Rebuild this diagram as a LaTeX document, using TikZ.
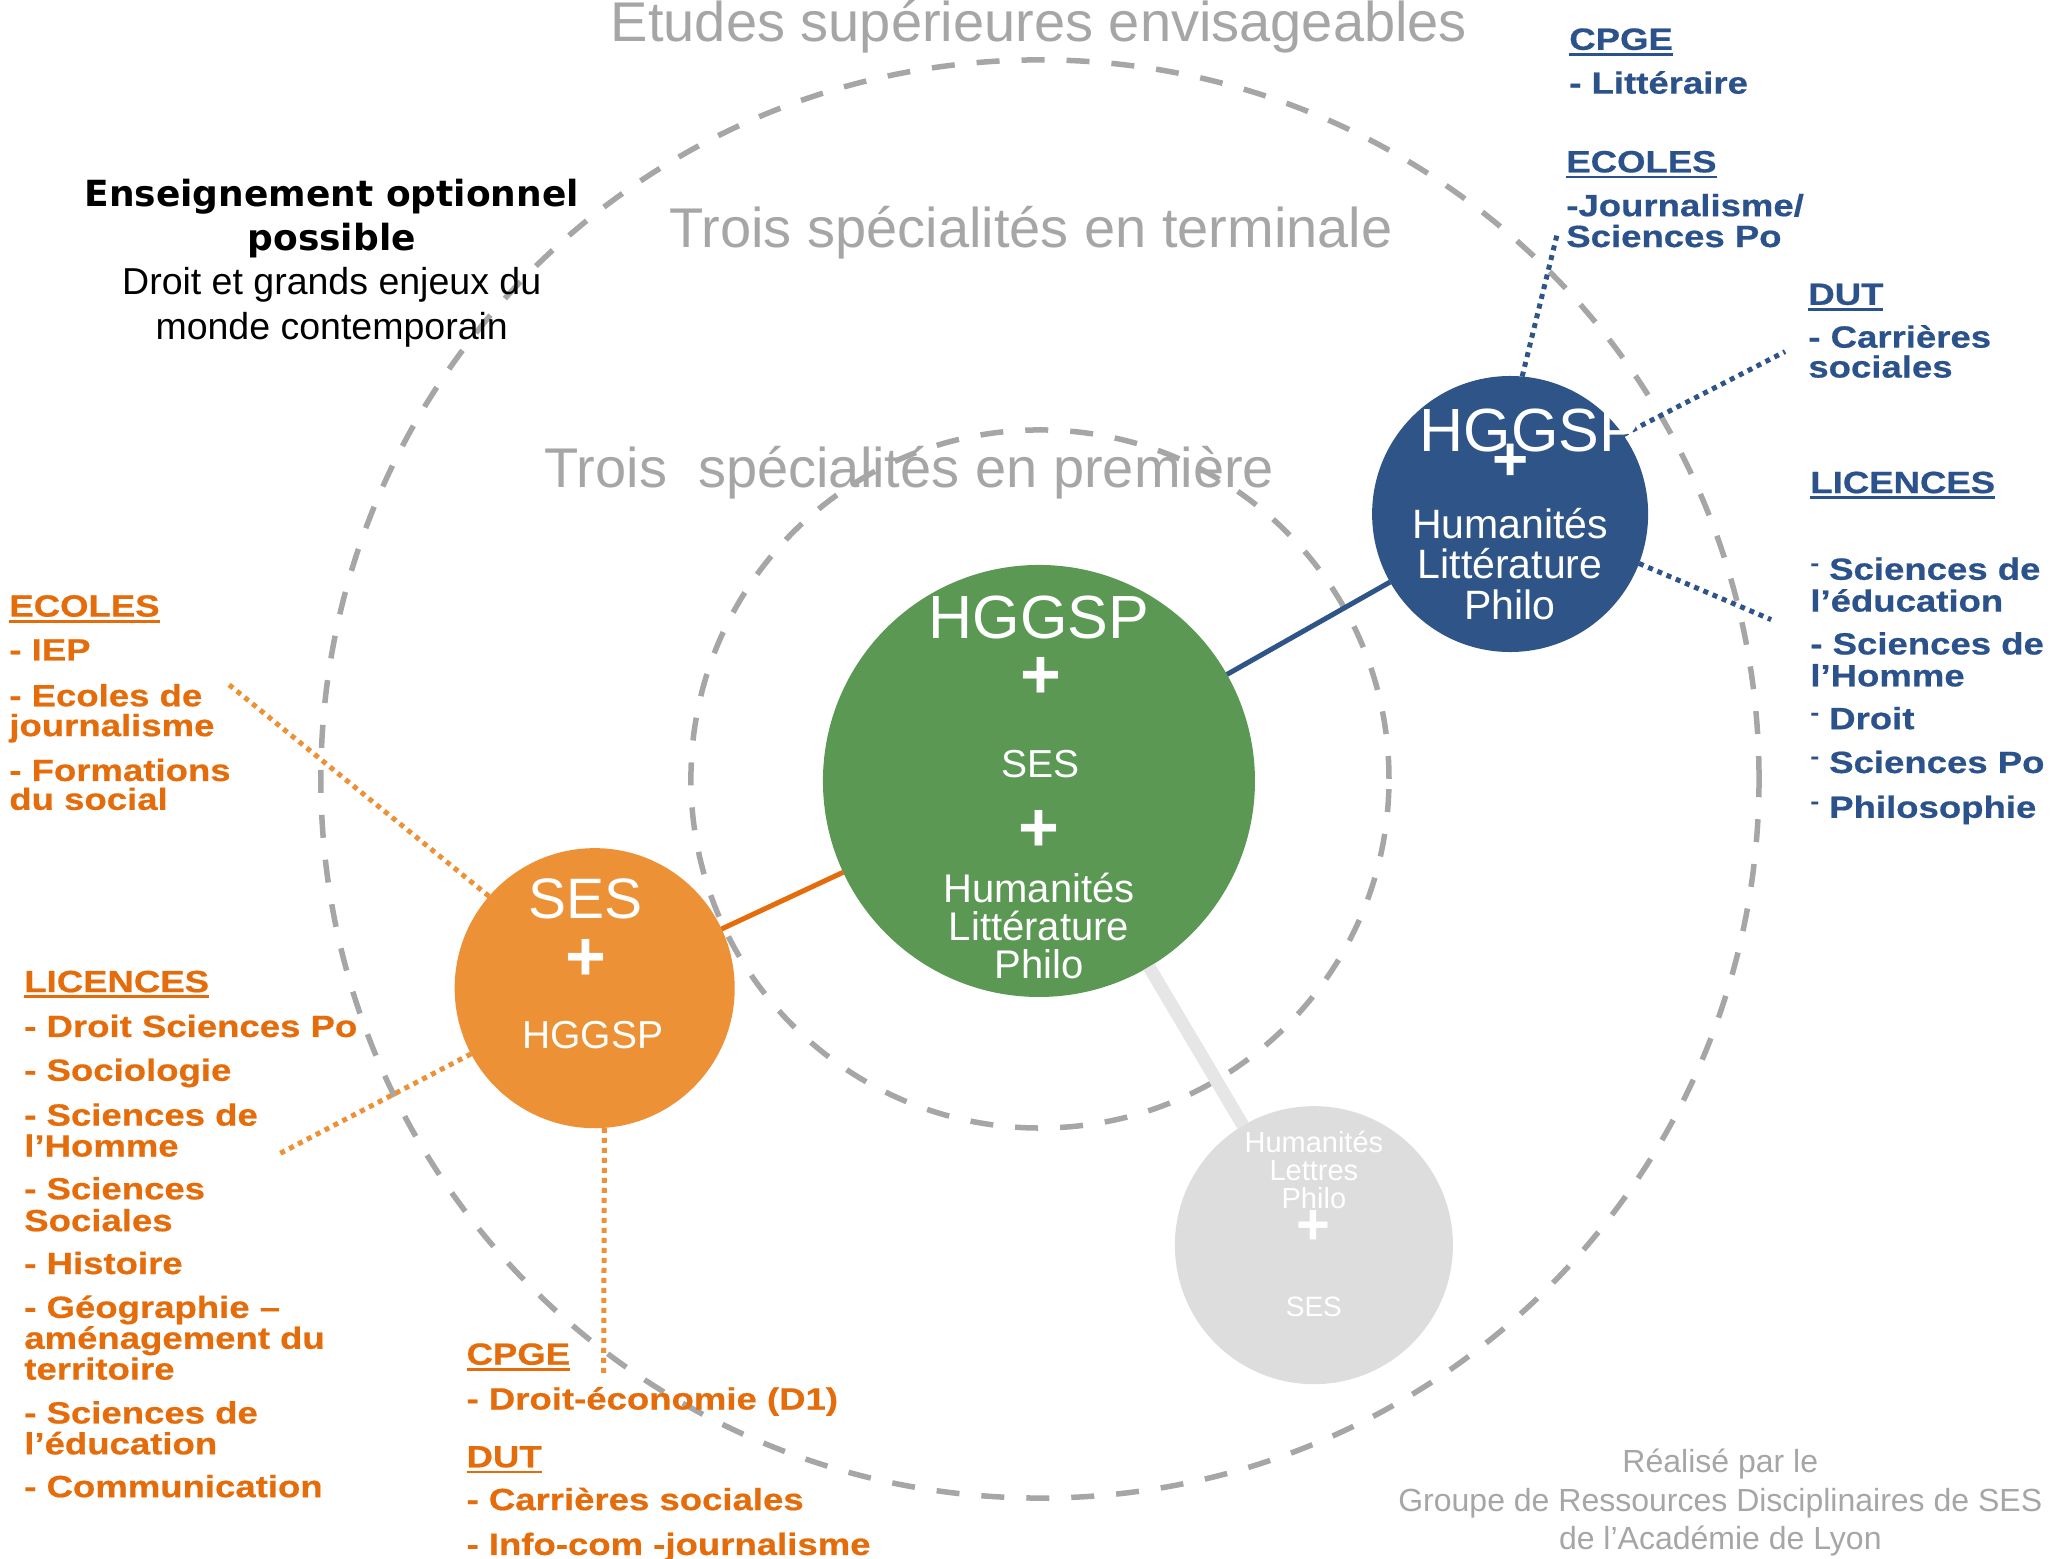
\documentclass[tikz,border=0pt]{standalone}
\usepackage{fontspec}
\setmainfont{Liberation Sans}
\newfontfamily\listfont{Liberation Sans}[FakeStretch=1.19, FakeBold=0.6]
\newfontfamily\optfont{DejaVu Sans}

\definecolor{ringgray}{RGB}{166,166,166}
\definecolor{greenfill}{RGB}{91,152,84}
\definecolor{bluefill}{RGB}{47,85,136}
\definecolor{orangefill}{RGB}{237,145,55}
\definecolor{grayfill}{RGB}{221,221,221}
\definecolor{graylink}{RGB}{230,230,230}
\definecolor{bluetext}{RGB}{44,82,140}
\definecolor{orangetext}{RGB}{228,108,10}

% underlined heading and small raised dash
\newcommand\ulhead[1]{\setbox0\hbox{#1}\rlap{\rule[-3pt]{\wd0}{1.4pt}}\box0}
\newcommand\sdash{\raisebox{0.3em}{\fontsize{11}{11}\selectfont -}}

\begin{document}
\begin{tikzpicture}[
  x = 0.498pt,
  y = -0.498pt,
  ring/.style = {
    circle,
    draw = ringgray,
    line width = 2.75pt,
    dash pattern = on 11.5pt off 11pt,
    inner sep = 0pt
  },
  disc/.style = {
    circle,
    inner sep = 0pt,
    outer sep = 0pt
  },
  bluetxt/.style = {
    text = bluetext,
    font = \listfont\bfseries\fontsize{15.35}{15}\selectfont,
    anchor = base west,
    inner sep = 0pt
  },
  orangetxt/.style = {
    bluetxt,
    text = orangetext
  },
  inside/.style = {
    text = white,
    anchor = base,
    inner sep = 0pt
  },
  plus/.style = {
    text = white,
    inner sep = 0pt
  },
  heading/.style = {
    text = ringgray,
    font = \fontsize{28}{28}\selectfont,
    anchor = base,
    inner sep = 0pt
  },
  dotted blue/.style = {
    draw = bluefill,
    line width = 2.5pt,
    dash pattern = on 2.5pt off 2.5pt
  },
  dotted orange/.style = {
    draw = orangefill,
    line width = 2.5pt,
    dash pattern = on 2.5pt off 2.5pt
  }
]
  \useasboundingbox (0,0) rectangle (2063,1565);

  % rings
  \node[ring, minimum size = 719pt] (outer) at (1044,782) {};
  \node[ring, minimum size = 349pt] (inner) at (1044,782) {};

  % titles
  \node[heading] (tEtudes) at (1043,42) {Etudes supérieures envisageables};
  \node[heading] (tTerm) at (1035,248) {Trois spécialités en terminale};
  \node[heading] (tPrem) at (913,489) {Trois\ \ spécialités en première};

  % circles
  \node[disc, fill = greenfill, minimum size = 216pt] (green) at (1043,784) {};
  \node[disc, fill = bluefill, minimum size = 138pt] (blue) at (1516,516) {};
  \node[disc, fill = orangefill, minimum size = 140pt] (orange) at (597,992) {};
  \node[disc, fill = grayfill, minimum size = 139pt] (gray) at (1319,1250) {};

  % links
  \draw[draw = bluefill, line width = 2.5pt] (green) -- (blue);
  \draw[draw = orangetext, line width = 2.5pt] (orange) -- (green);
  \draw[draw = graylink, line width = 6.5pt] (green) -- (gray);

  \coordinate (bEco) at (1564,232);
  \coordinate (bDut) at (1792,353);
  \coordinate (bLic) at (1778,622);
  \coordinate (oEco) at (227,685);
  \coordinate (oLic) at (279,1159);
  \coordinate (oCpge) at (606,1383);

  \draw[dotted blue] (blue.85) -- (bEco);
  \draw[dotted blue] (blue.35) -- (bDut);
  \draw[dotted blue] (blue.-21) -- (bLic);
  \draw[dotted orange] (orange.139) -- (oEco);
  \draw[dotted orange] (orange.208) -- (oLic);
  \draw[dotted orange] (orange.-86) -- (oCpge);

  % green circle
  \node[inside, font = \fontsize{30.5}{30.5}\selectfont] (gHggsp) at (1043,641) {HGGSP};
  \node[plus, font = \bfseries\fontsize{35}{35}\selectfont] (gPlus1) at (1045,681) {+};
  \node[inside, font = \fontsize{19.5}{19.5}\selectfont] (gSes) at (1045,781) {SES};
  \node[plus, font = \bfseries\fontsize{35}{35}\selectfont] (gPlus2) at (1043,834) {+};
  \foreach \y/\t [count = \i] in {906/Humanités, 944/Littérature, 982/Philo}
    \node[inside, font = \fontsize{20}{20}\selectfont] (gHum\i) at (1043,\y) {\t};

  % blue circle
  \node[inside, anchor = base west, font = \fontsize{30.5}{30.5}\selectfont] (bHggsp) at (1425,453) {HGGSP};
  \node[plus, font = \bfseries\fontsize{31}{31}\selectfont] (bPlus) at (1516,464) {+};
  \foreach \y/\t [count = \i] in {541/Humanités, 581/Littérature, 622/Philo}
    \node[inside, font = \fontsize{20.5}{20.5}\selectfont] (bHum\i) at (1516,\y) {\t};

  % orange circle
  \node[inside, font = \fontsize{28.5}{28.5}\selectfont] (oSes) at (588,922) {SES};
  \node[plus, font = \bfseries\fontsize{35}{35}\selectfont] (oPlus) at (588,964) {+};
  \node[inside, font = \fontsize{19.5}{19.5}\selectfont] (oHggsp) at (595,1053) {HGGSP};

  % gray circle
  \foreach \y/\t [count = \i] in {1157/Humanités, 1185/Lettres, 1213/Philo}
    \node[inside, font = \fontsize{14.5}{14.5}\selectfont] (yHum\i) at (1319,\y) {\t};
  \node[plus, font = \bfseries\fontsize{29}{29}\selectfont] (yPlus) at (1319,1232) {+};
  \node[inside, font = \fontsize{14}{14}\selectfont] (ySes) at (1319,1322) {SES};

  % optional course
  \node[anchor = base, inner sep = 0pt, font = \optfont\bfseries\fontsize{18}{18}\selectfont] (opt1) at (333,207) {Enseignement optionnel};
  \node[anchor = base, inner sep = 0pt, font = \optfont\bfseries\fontsize{18}{18}\selectfont] (opt2) at (333,251) {possible};
  \node[anchor = base, inner sep = 0pt, font = \fontsize{18.75}{18.75}\selectfont] (opt3) at (333,296) {Droit et grands enjeux du};
  \node[anchor = base, inner sep = 0pt, font = \fontsize{18.75}{18.75}\selectfont] (opt4) at (333,341) {monde contemporain};

  % blue lists
  \node[bluetxt] (bCpge) at (1575,50) {\ulhead{CPGE}};
  \node[bluetxt] (bCpge1) at (1575,94) {- Littéraire};
  \node[bluetxt] (bEcoles) at (1572,173) {\ulhead{ECOLES}};
  \foreach \y/\t [count = \i] in {217/{-Journalisme/}, 248/{Sciences Po}}
    \node[bluetxt] (bEcoles\i) at (1572,\y) {\t};
  \node[bluetxt] (bDutH) at (1815,306) {\ulhead{DUT}};
  \foreach \y/\t [count = \i] in {349/{- Carrières}, 379/{sociales}}
    \node[bluetxt] (bDut\i) at (1815,\y) {\t};
  \node[bluetxt] (bLicH) at (1817,495) {\ulhead{LICENCES}};
  \foreach \y/\t [count = \i] in {582/{\sdash\ Sciences de}, 614/{l’éducation},
      657/{- Sciences de}, 689/{l’Homme}, 732/{\sdash\ Droit},
      776/{\sdash\ Sciences Po}, 821/{\sdash\ Philosophie}}
    \node[bluetxt] (bLic\i) at (1817,\y) {\t};

  % orange lists
  \node[orangetxt] (oEcolesH) at (9,619) {\ulhead{ECOLES}};
  \foreach \y/\t [count = \i] in {663/{- IEP}, 709/{- Ecoles de}, 739/{journalisme},
      784/{- Formations}, 813/{du social}}
    \node[orangetxt] (oEcoles\i) at (9,\y) {\t};
  \node[orangetxt] (oLicH) at (24,996) {\ulhead{LICENCES}};
  \foreach \y/\t [count = \i] in {1041/{- Droit Sciences Po}, 1085/{- Sociologie},
      1130/{- Sciences de}, 1161/{l’Homme}, 1204/{- Sciences}, 1236/{Sociales},
      1279/{- Histoire}, 1323/{- Géographie –}, 1354/{aménagement du},
      1385/{territoire}, 1429/{- Sciences de}, 1460/{l’éducation},
      1503/{- Communication}}
    \node[orangetxt] (oLic\i) at (24,\y) {\t};
  \node[orangetxt] (oCpgeH) at (468,1370) {\ulhead{CPGE}};
  \node[orangetxt] (oCpge1) at (468,1415) {- Droit-économie (D1)};
  \node[orangetxt] (oDutH) at (468,1473) {\ulhead{DUT}};
  \node[orangetxt] (oDut1) at (468,1516) {- Carrières sociales};
  \node[orangetxt] (oDut2) at (468,1561) {- Info-com -journalisme};

  % credits
  \foreach \y/\t [count = \i] in {1478/{Réalisé par le},
      1517/{Groupe de Ressources Disciplinaires de SES},
      1556/{de l’Académie de Lyon}}
    \node[anchor = base, inner sep = 0pt, text = ringgray, font = \fontsize{16}{16}\selectfont] (credit\i) at (1727,\y) {\t};
\end{tikzpicture}
\end{document}
